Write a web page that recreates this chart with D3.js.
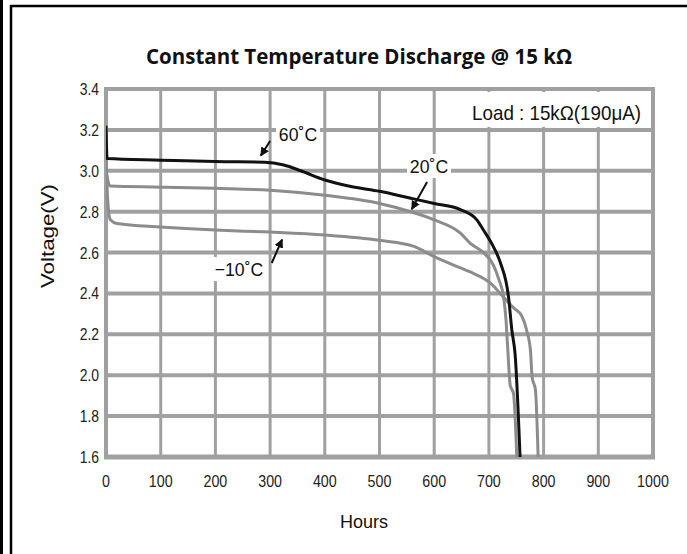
<!DOCTYPE html>
<html>
<head>
<meta charset="utf-8">
<script src="https://cdn.jsdelivr.net/npm/d3@7"></script>
<style>
  body { margin: 0; background: #fff; }
  svg { display: block; }
</style>
</head>
<body>
<div id="chart"></div>
<script>
// Constant temperature discharge curves (hours vs voltage)

const width = 687;
const height = 554;

const xTicks = [0, 100, 200, 300, 400, 500, 600, 700, 800, 900, 1000];
const yTicks = [1.6, 1.8, 2.0, 2.2, 2.4, 2.6, 2.8, 3.0, 3.2, 3.4];

// [hours, volts]
const temp60 = [[0, 3.22], [2, 3.06], [100, 3.052], [200, 3.045], [290, 3.042], [325, 3.028],
  [356, 3.0], [400, 2.955], [450, 2.922], [500, 2.9], [557, 2.866], [600, 2.84], [648, 2.81],
  [678, 2.76], [690, 2.71], [708, 2.63], [721, 2.55], [736, 2.38], [742, 2.22],
  [748, 2.1], [757, 1.6]];
const temp20 = [[0, 3.0], [8, 2.925], [100, 2.92], [200, 2.914], [300, 2.905], [400, 2.88],
  [500, 2.84], [557, 2.80], [600, 2.76], [648, 2.695], [666, 2.645], [690, 2.60],
  [708, 2.54], [718, 2.47], [727, 2.38], [731, 2.28], [734, 2.15], [739, 1.95],
  [745, 1.91], [751, 1.6]];
const tempMinus10 = [[0, 3.1], [3, 2.86], [8, 2.76], [20, 2.742], [100, 2.725], [200, 2.71],
  [300, 2.70], [400, 2.686], [500, 2.66], [563, 2.63], [600, 2.58], [648, 2.525],
  [666, 2.505], [703, 2.45], [724, 2.39], [745, 2.33], [760, 2.29], [769, 2.22],
  [776, 2.12], [779, 1.99], [785, 1.93], [790, 1.6]];

const series = [
  { name: "-10", data: tempMinus10, color: "#8c8c8c" },
  { name: "20", data: temp20, color: "#8c8c8c" },
  { name: "60", data: temp60, color: "#111111" }
];

const svg = d3.select("#chart")
  .append("svg")
  .attr("width", width)
  .attr("height", height);

// page frame
svg.append("rect").attr("x", 0).attr("y", 0).attr("width", 3).attr("height", height).attr("fill", "#000");
svg.append("path")
  .attr("d", `M11,${height} V6 H${width}`)
  .attr("fill", "none")
  .attr("stroke", "#000")
  .attr("stroke-width", 2.5);

const x = d3.scaleLinear().domain([0, 1000]).range([106, 653]);
const y = d3.scaleLinear().domain([1.6, 3.4]).range([457, 89]);

const gridColor = "#a0a0a0";
const baseFont = "'Liberation Sans', Arial, sans-serif";

// condensed text, the picture uses a narrow face
function narrowText(parent, px, py, str, size, anchor, sx) {
  return parent.append("text")
    .attr("transform", `translate(${px},${py}) scale(${sx || 0.8},1)`)
    .attr("text-anchor", anchor)
    .style("font-family", baseFont)
    .style("font-size", size + "px")
    .attr("fill", "#222")
    .text(str);
}

// grid
svg.append("g")
  .selectAll("line")
  .data(xTicks)
  .join("line")
  .attr("x1", d => x(d)).attr("x2", d => x(d))
  .attr("y1", y(3.4)).attr("y2", y(1.6))
  .attr("stroke", gridColor)
  .attr("stroke-width", d => (d === 0 || d === 1000) ? 4 : 3);

svg.append("g")
  .selectAll("line")
  .data(yTicks)
  .join("line")
  .attr("x1", x(0) - 2).attr("x2", x(1000) + 2)
  .attr("y1", d => y(d)).attr("y2", d => y(d))
  .attr("stroke", gridColor)
  .attr("stroke-width", d => d === 1.6 ? 5 : 4);

// tick labels
const yLab = svg.append("g");
yTicks.forEach(d => narrowText(yLab, x(0) - 7, y(d) + 6, d.toFixed(1), 17, "end", 0.82));

const xLab = svg.append("g");
xTicks.forEach(d => narrowText(xLab, x(d), 487, String(d), 17, "middle", 0.84));

// axis titles
svg.append("text")
  .attr("x", 364)
  .attr("y", 528)
  .attr("text-anchor", "middle")
  .style("font-family", baseFont)
  .style("font-size", "18px")
  .attr("fill", "#111")
  .text("Hours");

svg.append("text")
  .attr("transform", "translate(54,236) rotate(-90)")
  .attr("text-anchor", "middle")
  .style("font-family", baseFont)
  .style("font-size", "19px")
  .attr("textLength", 104)
  .attr("lengthAdjust", "spacingAndGlyphs")
  .attr("fill", "#111")
  .text("Voltage(V)");

svg.append("text")
  .attr("x", 359)
  .attr("y", 64)
  .attr("text-anchor", "middle")
  .style("font-family", "'Open Sans', sans-serif")
  .style("font-weight", "bold")
  .style("font-size", "20.5px")
  .attr("fill", "#111")
  .text("Constant Temperature Discharge @ 15 kΩ");

// curves
svg.append("clipPath").attr("id", "plot-clip")
  .append("rect")
  .attr("x", x(0)).attr("y", y(3.4) - 2)
  .attr("width", x(1000) - x(0)).attr("height", y(1.6) - y(3.4) + 2);

const line = d3.line()
  .x(d => x(d[0]))
  .y(d => y(d[1]))
  .curve(d3.curveMonotoneX);

svg.append("g")
  .attr("clip-path", "url(#plot-clip)")
  .selectAll("path")
  .data(series)
  .join("path")
  .attr("d", d => line(d.data))
  .attr("fill", "none")
  .attr("stroke", d => d.color)
  .attr("stroke-width", 3)
  .attr("stroke-linejoin", "round");

// load note with white backing
const note = svg.append("g");
note.append("rect")
  .attr("x", 467).attr("y", y(3.4) + 3)
  .attr("width", 180).attr("height", y(3.2) - y(3.4) - 6)
  .attr("fill", "#fff");
narrowText(note, 641, 120, "Load : 15kΩ(190μA)", 20, "end", 0.94).attr("fill", "#111");

// temperature labels with arrows
svg.append("defs").append("marker")
  .attr("id", "arrow")
  .attr("viewBox", "0 0 10 10")
  .attr("refX", 9).attr("refY", 5)
  .attr("markerWidth", 4.5).attr("markerHeight", 4.5)
  .attr("orient", "auto")
  .append("path")
  .attr("d", "M0,0 L10,5 L0,10 Z")
  .attr("fill", "#111");

// label centre in pixels, arrow tail/head in data units
const labels = [
  { text: "60˚C", tx: 298, ty: 134, bw: 44, t: [300, 3.146], h: [283, 3.074] },
  { text: "20˚C", tx: 429, ty: 166, bw: 44, t: [587, 2.945], h: [559, 2.812] },
  { text: "−10˚C", tx: 239, ty: 269, bw: 56, t: [303, 2.549], h: [322, 2.664] }
];

labels.forEach(l => {
  svg.append("rect")
    .attr("x", l.tx - l.bw / 2).attr("y", l.ty - 12)
    .attr("width", l.bw).attr("height", 24)
    .attr("fill", "#fff");
  narrowText(svg, l.tx, l.ty + 7, l.text, 19, "middle", 0.93).attr("fill", "#111");
  svg.append("line")
    .attr("x1", x(l.t[0])).attr("y1", y(l.t[1]))
    .attr("x2", x(l.h[0])).attr("y2", y(l.h[1]))
    .attr("stroke", "#111")
    .attr("stroke-width", 2)
    .attr("marker-end", "url(#arrow)");
});
</script>
</body>
</html>
